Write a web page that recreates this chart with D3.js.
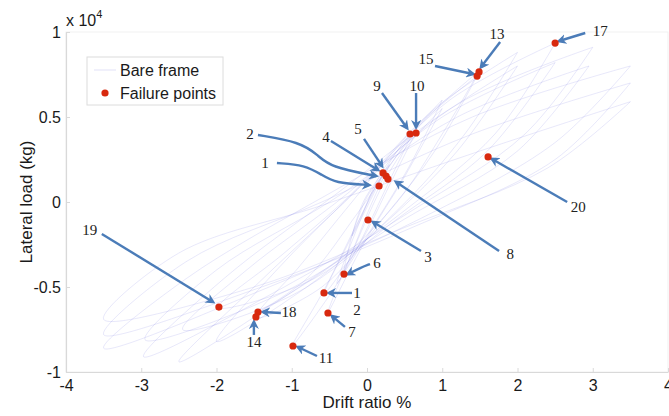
<!DOCTYPE html>
<html>
<head>
<meta charset="utf-8">
<script src="https://cdn.jsdelivr.net/npm/d3@7"></script>
<style>
  body { margin: 0; background: #fff; }
  svg { display: block; font-family: "Liberation Sans", Arial, sans-serif; }
</style>
</head>
<body>
<script>
// Chart basic vars
var width = 669,
    height = 416,
    margin = {left: 66, top: 32, right: 1, bottom: 44};

// axis ticks (load in units of 10^4 kg)
var xTicks = [-4, -3, -2, -1, 0, 1, 2, 3, 4];
var yTicks = [-1, -0.5, 0, 0.5, 1];

// hysteresis loops of the bare frame, [drift %, load x10^4 kg]
var loops = [
  [[0.2, 0.15], [0.0, -0.03], [-0.2, -0.2], [0.0, 0.03], [0.2, 0.15]],
  [[0.3, 0.22], [0.05, -0.02], [-0.3, -0.4], [-0.05, 0.0], [0.3, 0.22]],
  [[0.6, 0.4], [0.25, 0.08], [-0.05, -0.2], [-0.4, -0.48], [-0.1, -0.12], [0.2, 0.18], [0.6, 0.4]],
  [[0.65, 0.41], [0.3, 0.1], [-0.1, -0.25], [-0.57, -0.54], [-0.2, -0.2], [0.15, 0.12], [0.65, 0.41]],
  [[1.0, 0.6], [0.55, 0.2], [0.0, -0.2], [-0.5, -0.55], [-1.0, -0.85], [-0.55, -0.5], [-0.1, -0.1], [0.4, 0.3], [1.0, 0.6]],
  [[1.0, 0.55], [0.5, 0.15], [-0.05, -0.25], [-0.52, -0.65], [-0.2, -0.3], [0.4, 0.25], [1.0, 0.55]],
  [[1.49, 0.77], [1.0, 0.4], [0.4, 0.0], [-0.4, -0.35], [-1.45, -0.65], [-0.8, -0.45], [-0.1, -0.05], [0.7, 0.45], [1.49, 0.77]],
  [[1.46, 0.74], [0.9, 0.3], [0.3, -0.05], [-0.6, -0.5], [-1.48, -0.68], [-0.9, -0.38], [-0.2, 0.0], [0.6, 0.42], [1.46, 0.74]],
  [[2.0, 0.88], [1.3, 0.4], [0.4, -0.05], [-0.7, -0.45], [-1.97, -0.62], [-1.1, -0.3], [-0.2, 0.05], [0.9, 0.55], [2.0, 0.88]],
  [[2.0, 0.8], [1.2, 0.3], [0.3, -0.1], [-0.8, -0.5], [-2.0, -0.82], [-1.2, -0.4], [-0.3, 0.0], [0.8, 0.45], [2.0, 0.8]],
  [[2.5, 0.935], [1.7, 0.4], [0.5, -0.05], [-0.9, -0.5], [-2.5, -0.94], [-1.5, -0.5], [-0.3, 0.0], [1.1, 0.6], [2.5, 0.935]],
  [[2.5, 0.82], [1.6, 0.3], [0.4, -0.1], [-1.0, -0.55], [-2.45, -0.75], [-1.6, -0.4], [-0.4, 0.0], [1.0, 0.5], [2.5, 0.82]],
  [[3.0, 0.91], [2.1, 0.4], [0.6, -0.05], [-1.1, -0.5], [-2.97, -0.91], [-1.9, -0.45], [-0.4, 0.05], [1.3, 0.6], [3.0, 0.91]],
  [[2.95, 0.8], [2.0, 0.3], [0.5, -0.1], [-1.2, -0.55], [-2.95, -0.81], [-2.0, -0.4], [-0.5, 0.0], [1.2, 0.5], [2.95, 0.8]],
  [[3.5, 0.8], [2.5, 0.35], [0.7, -0.1], [-1.3, -0.5], [-3.5, -0.86], [-2.4, -0.45], [-0.5, 0.05], [1.4, 0.5], [3.5, 0.8]],
  [[3.5, 0.7], [2.5, 0.25], [0.6, -0.15], [-1.4, -0.5], [-3.5, -0.78], [-2.4, -0.35], [-0.6, 0.0], [1.4, 0.4], [3.5, 0.7]],
  [[3.5, 0.59], [2.4, 0.2], [0.5, -0.15], [-1.5, -0.5], [-3.5, -0.69], [-2.5, -0.3], [-0.6, -0.02], [1.5, 0.3], [3.5, 0.59]]
];

// failure points
var failX = [2.50, 1.489, 1.463, 0.572, 0.652, 1.609, 0.213, 0.253, 0.279, 0.160, 0.013, -0.306, -0.572, -0.519, -0.984, -1.449, -1.476, -1.968];
var failY = [0.935, 0.765, 0.741, 0.40, 0.406, 0.265, 0.171, 0.153, 0.135, 0.094, -0.106, -0.424, -0.535, -0.653, -0.847, -0.647, -0.676, -0.618];

// annotation labels: text, label position, arrow path (data units)
var noteText = ["17", "13", "15", "9", "10", "2", "4", "5", "1", "8", "20", "3", "6", "1", "2", "7", "11", "18", "14", "19"];
var notePos = [[3.10, 1.01], [1.729, 0.988], [0.785, 0.841], [0.133, 0.682], [0.665, 0.682],
               [-1.556, 0.40], [-0.545, 0.382], [-0.12, 0.429], [-1.356, 0.229], [1.902, -0.306],
               [2.806, -0.029], [0.811, -0.324], [0.133, -0.359], [-0.133, -0.535], [-0.133, -0.635],
               [-0.199, -0.765], [-0.545, -0.918], [-1.037, -0.647], [-1.503, -0.824], [-3.684, -0.165]];
var notePath = [
  [[2.90, 0.994], [2.553, 0.947]],
  [[1.769, 0.941], [1.516, 0.794]],
  [[0.904, 0.80], [1.41, 0.753]],
  [[0.199, 0.641], [0.532, 0.435]],
  [[0.652, 0.641], [0.652, 0.441]],
  [[-1.449, 0.394], [-0.891, 0.353], [-0.652, 0.276], [-0.492, 0.206], [0.12, 0.153]],
  [[-0.479, 0.359], [0.146, 0.188]],
  [[-0.04, 0.371], [0.199, 0.212]],
  [[-1.197, 0.229], [-0.824, 0.218], [-0.598, 0.159], [-0.426, 0.112], [0.027, 0.10]],
  [[1.755, -0.288], [0.386, 0.118]],
  [[2.66, 0.0], [1.662, 0.253]],
  [[0.718, -0.288], [0.08, -0.118]],
  [[0.04, -0.365], [-0.093, -0.388], [-0.253, -0.424]],
  [[-0.199, -0.535], [-0.505, -0.535]],
  null,
  [[-0.293, -0.735], [-0.465, -0.671]],
  [[-0.665, -0.906], [-0.918, -0.853]],
  [[-1.144, -0.653], [-1.383, -0.647]],
  [[-1.503, -0.782], [-1.503, -0.706]],
  [[-3.524, -0.188], [-2.048, -0.588]]
];

var arrowColor = '#4b7cb8',
    dotColor = '#d8290f',
    loopColor = '#7c7ce0';

// scales
var x = d3.scaleLinear()
        .domain([-4, 4])
        .range([margin.left, width - margin.right]),
    y = d3.scaleLinear()
        .domain([-1, 1])
        .range([height - margin.bottom, margin.top]);

var svg = d3.select('body').append('svg')
    .attr('width', width)
    .attr('height', height);

svg.append('defs').append('marker')
    .attr('id', 'head')
    .attr('viewBox', '0 0 10 10')
    .attr('refX', 7).attr('refY', 5)
    .attr('markerWidth', 10).attr('markerHeight', 10)
    .attr('markerUnits', 'userSpaceOnUse')
    .attr('orient', 'auto')
  .append('path')
    .attr('d', 'M0,0L10,5L0,10L3,5Z')
    .attr('fill', arrowColor);

// frame
svg.append('rect')
    .attr('x', x(-4)).attr('y', y(1))
    .attr('width', x(4) - x(-4)).attr('height', y(-1) - y(1))
    .attr('fill', 'none')
    .attr('stroke', '#f1f1f1');

// axes
var xAxis = d3.axisBottom(x).tickValues(xTicks).tickSizeInner(-4).tickSizeOuter(0).tickPadding(8)
        .tickFormat(function(d) { return String(d); }),
    yAxis = d3.axisLeft(y).tickValues(yTicks).tickSizeInner(-4).tickSizeOuter(0).tickPadding(5)
        .tickFormat(function(d) { return String(d); });

var gx = svg.append('g')
    .attr('transform', 'translate(0,' + y(-1) + ')')
    .call(xAxis);
var gy = svg.append('g')
    .attr('transform', 'translate(' + x(-4) + ',0)')
    .call(yAxis);

[gx, gy].forEach(function(g) {
    g.select('.domain').attr('stroke', '#d9d9d9').attr('stroke-width', 1.2);
    g.selectAll('.tick line').attr('stroke', '#dadada');
    g.selectAll('.tick text')
        .attr('fill', '#1a1a1a')
        .style('font-size', '16px')
        .style('font-family', '"Liberation Sans", Arial, sans-serif');
});

// loops
var loopLine = d3.line()
    .x(function(d) { return x(d[0]); })
    .y(function(d) { return y(d[1]); })
    .curve(d3.curveCatmullRom.alpha(0.5));

svg.append('g').selectAll('path')
    .data(loops)
  .enter().append('path')
    .attr('d', loopLine)
    .attr('fill', 'none')
    .attr('stroke', loopColor)
    .attr('stroke-opacity', 0.22)
    .attr('stroke-width', 0.8);

// arrows
var arrowLine = d3.line()
    .x(function(d) { return x(d[0]); })
    .y(function(d) { return y(d[1]); })
    .curve(d3.curveBasis);

svg.append('g').selectAll('path')
    .data(notePath.filter(function(d) { return d; }))
  .enter().append('path')
    .attr('d', arrowLine)
    .attr('fill', 'none')
    .attr('stroke', arrowColor)
    .attr('stroke-width', 2.4)
    .attr('marker-end', 'url(#head)');

// failure points
svg.append('g').selectAll('circle')
    .data(failX)
  .enter().append('circle')
    .attr('cx', function(d) { return x(d); })
    .attr('cy', function(d, i) { return y(failY[i]); })
    .attr('r', 3.6)
    .attr('fill', dotColor);

// labels
svg.append('g').selectAll('text')
    .data(noteText)
  .enter().append('text')
    .attr('x', function(d, i) { return x(notePos[i][0]); })
    .attr('y', function(d, i) { return y(notePos[i][1]); })
    .attr('dy', '0.35em')
    .attr('text-anchor', 'middle')
    .style('font-family', '"Liberation Serif", "Times New Roman", serif')
    .style('font-size', '15px')
    .attr('fill', '#222')
    .text(function(d) { return d; });

// exponent
var ex = svg.append('text')
    .attr('x', x(-4)).attr('y', 26)
    .style('font-size', '16px')
    .attr('fill', '#1a1a1a')
    .text('x 10');
ex.append('tspan').attr('dy', -8).style('font-size', '11px').text('4');

// axis titles
svg.append('text')
    .attr('x', x(0)).attr('y', 408)
    .attr('text-anchor', 'middle')
    .style('font-size', '17px')
    .attr('fill', '#1a1a1a')
    .text('Drift ratio %');

svg.append('text')
    .attr('transform', 'translate(32,' + y(0) + ') rotate(-90)')
    .attr('text-anchor', 'middle')
    .style('font-size', '17px')
    .attr('fill', '#1a1a1a')
    .text('Lateral load (kg)');

// legend
var lg = svg.append('g');
lg.append('rect')
    .attr('x', 87).attr('y', 57).attr('width', 136).attr('height', 48)
    .attr('fill', '#fff').attr('stroke', '#dcdcdc');
lg.append('line')
    .attr('x1', 94).attr('x2', 116).attr('y1', 70).attr('y2', 70)
    .attr('stroke', loopColor).attr('stroke-opacity', 0.22);
lg.append('text').attr('x', 120).attr('y', 76)
    .style('font-size', '16px').attr('fill', '#1a1a1a').text('Bare frame');
lg.append('circle').attr('cx', 105).attr('cy', 93).attr('r', 3.6).attr('fill', dotColor);
lg.append('text').attr('x', 120).attr('y', 99)
    .style('font-size', '16px').attr('fill', '#1a1a1a').text('Failure points');
</script>
</body>
</html>
